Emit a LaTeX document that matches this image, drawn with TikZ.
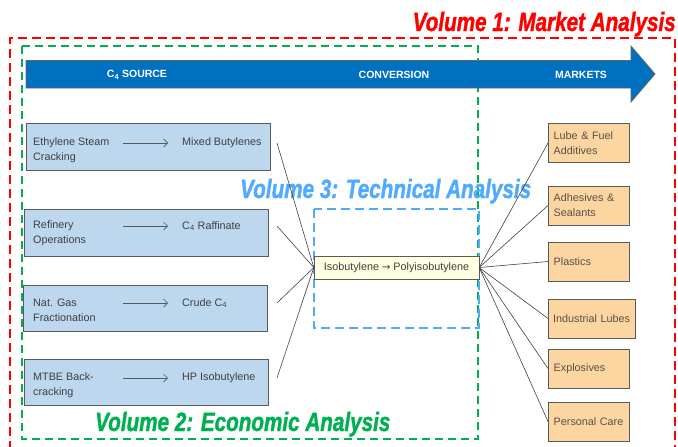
\documentclass[tikz,border=0pt]{standalone}
\usepackage{fontspec}
\setmainfont{Liberation Sans}
\newfontfamily\volfont{Liberation Sans}[BoldItalicFeatures={FakeBold=1.6}]
\newfontfamily\symbolfont{DejaVu Sans}
\usetikzlibrary{arrows.meta,positioning}
\definecolor{barcolor}{RGB}{0,112,192}
\definecolor{srcfill}{RGB}{189,215,238}
\definecolor{mktfill}{RGB}{252,213,160}
\definecolor{convfill}{RGB}{255,255,225}
\definecolor{volred}{RGB}{255,0,0}
\definecolor{volgreen}{RGB}{0,176,80}
\definecolor{volblue}{RGB}{80,170,255}
\definecolor{boxline}{RGB}{90,90,90}
\definecolor{txtgray}{RGB}{64,64,64}
\definecolor{mkttext}{RGB}{90,80,70}
\newcommand{\voltext}[1]{\scalebox{0.78}[1]{\volfont\bfseries\itshape #1}}

\begin{document}
\begin{tikzpicture}[x=1pt, y=-1pt, >={Straight Barb[length=4pt,width=8pt]},
    every node/.style={font=\fontsize{10.8}{15}\selectfont},
    srcbox/.style={draw=boxline, fill=srcfill, minimum width=244pt, minimum height=47pt, inner sep=0pt},
    srctext/.style={text=txtgray, align=left, inner sep=0pt, anchor=west},
    mktbox/.style={draw=boxline, fill=mktfill, text=mkttext, align=left, anchor=west,
        minimum height=39pt, inner sep=0pt, inner xsep=5.5pt, text width=70pt},
    convbox/.style={draw=boxline, fill=convfill, text=txtgray, minimum width=165pt, minimum height=23pt, inner sep=0pt},
    bartext/.style={text=white, font=\fontsize{10.5}{12}\selectfont\bfseries},
    voltitle/.style={font=\fontsize{26.5}{30}\selectfont, inner sep=0pt},
    link/.style={draw=black!75, line width=0.6pt},
    flow/.style={->, draw=black!65, line width=0.7pt}]
    \useasboundingbox (0,0) rectangle (678,447);

    % volume frames
    \draw[volred, line width=2pt, dash pattern=on 9pt off 5pt] (10,450) -- (10,38) -- (675,38) -- (675,450);
    \draw[volgreen, line width=2pt, dash pattern=on 8pt off 5pt] (22,46) rectangle (478,439);
    \draw[volblue, line width=2pt, dash pattern=on 9pt off 5pt] (314,209) rectangle (479,328);

    \node[voltitle, text=volred, anchor=base east] (V1) at (676,31) {\voltext{Volume 1: Market Analysis}};
    \node[voltitle, text=volgreen, anchor=base west] (V2) at (95,431) {\voltext{Volume 2: Economic Analysis}};
    \node[voltitle, text=volblue, anchor=base west] (V3) at (240,198) {\voltext{Volume 3: Technical Analysis}};

    % big arrow
    \draw[draw=black!60, fill=barcolor, line width=0.8pt] (26,60.5) -- (631,60.5) -- (631,46) -- (655,74)
        -- (631,102) -- (631,88) -- (26,88) -- cycle;
    \node[bartext] (B1) at (137,75) {C\textsubscript{4} SOURCE};
    \node[bartext] (B2) at (394,75) {CONVERSION};
    \node[bartext] (B3) at (581,75) {MARKETS};

    % sources
    \node[srcbox] (S1) at (148,147) {};
    \node[srcbox] (S2) at (146,232.5) {};
    \node[srcbox, minimum height=46pt] (S3) at (145,308) {};
    \node[srcbox, minimum height=46pt] (S4) at (146,382) {};

    \node[srctext] (S1a) at (33,150.5) {Ethylene Steam\\Cracking};
    \node[srctext] (S1b) at (182,143) {Mixed Butylenes};
    \node[srctext] (S2a) at (33,233) {Refinery\\Operations};
    \node[srctext] (S2b) at (182,226) {C\textsubscript{4} Raffinate};
    \node[srctext] (S3a) at (33,310.5) {Nat. Gas\\Fractionation};
    \node[srctext] (S3b) at (182,303) {Crude C\textsubscript{4}};
    \node[srctext] (S4a) at (33,385) {MTBE Back-\\cracking};
    \node[srctext] (S4b) at (182,378) {HP Isobutylene};

    \foreach \i/\y in {1/143, 2/226, 3/303, 4/378} {
        \coordinate (F\i) at (123,\y);
        \coordinate (T\i) at (168,\y);
        \coordinate (E\i) at (277,\y);
        \draw[flow] (F\i) -- (T\i);
    }

    % conversion
    \node[convbox] (C) at (396.5,267.5) {Isobutylene {\symbolfont\fontsize{10}{12}\selectfont →} Polyisobutylene};

    % markets
    \node[mktbox] (M1) at (548,143) {Lube \& Fuel\\Additives};
    \node[mktbox] (M2) at (548,205.5) {Adhesives \&\\Sealants};
    \node[mktbox] (M3) at (548,261.5) {Plastics};
    \node[mktbox, inner xsep=5pt, text width=77pt] (M4) at (548,318.5) {Industrial Lubes};
    \node[mktbox] (M5) at (548,368.5) {Explosives};
    \node[mktbox] (M6) at (548,421.5) {Personal Care};

    \foreach \i in {1,...,4}
        \path[link] (E\i) edge (C.west);
    \foreach \i in {1,...,6}
        \path[link] (C.east) edge (M\i.west);
\end{tikzpicture}
\end{document}
